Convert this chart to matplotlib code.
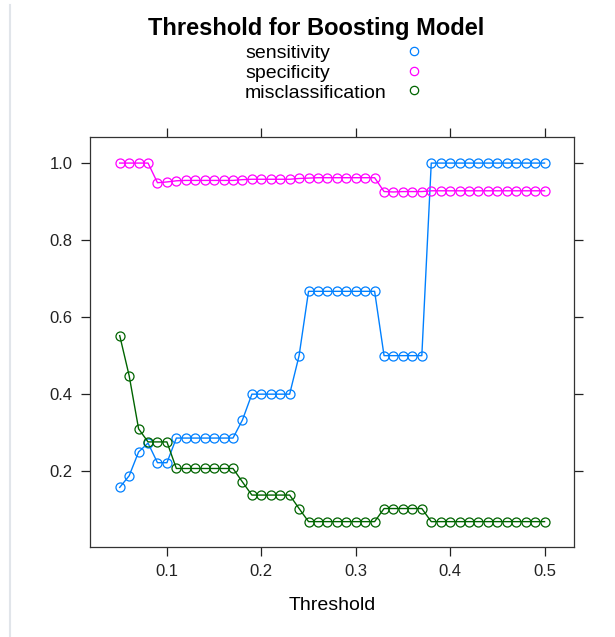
import matplotlib.pyplot as plt
from matplotlib.lines import Line2D

plt.rcParams['font.family'] = ['Liberation Sans', 'DejaVu Sans']

# thresholds 0.05 .. 0.50
threshold = [0.05, 0.06, 0.07, 0.08, 0.09, 0.10, 0.11, 0.12, 0.13, 0.14,
             0.15, 0.16, 0.17, 0.18, 0.19, 0.20, 0.21, 0.22, 0.23, 0.24,
             0.25, 0.26, 0.27, 0.28, 0.29, 0.30, 0.31, 0.32, 0.33, 0.34,
             0.35, 0.36, 0.37, 0.38, 0.39, 0.40, 0.41, 0.42, 0.43, 0.44,
             0.45, 0.46, 0.47, 0.48, 0.49, 0.50]

sensitivity = [0.158, 0.188, 0.25, 0.273, 0.222, 0.222,
               0.286, 0.286, 0.286, 0.286, 0.286, 0.286, 0.286,
               0.333,
               0.4, 0.4, 0.4, 0.4, 0.4,
               0.5,
               0.667, 0.667, 0.667, 0.667, 0.667, 0.667, 0.667, 0.667,
               0.5, 0.5, 0.5, 0.5, 0.5,
               1.0, 1.0, 1.0, 1.0, 1.0, 1.0, 1.0, 1.0, 1.0, 1.0, 1.0, 1.0, 1.0]

specificity = [1.0, 1.0, 1.0, 1.0, 0.949, 0.951,
               0.954, 0.955, 0.955, 0.955, 0.955, 0.955, 0.955,
               0.957,
               0.958, 0.958, 0.958, 0.958, 0.958,
               0.960,
               0.961, 0.962, 0.962, 0.962, 0.962, 0.962, 0.962, 0.962,
               0.926, 0.925, 0.926, 0.926, 0.926,
               0.928, 0.928, 0.928, 0.928, 0.928, 0.928, 0.928, 0.928,
               0.928, 0.928, 0.928, 0.928, 0.928]

misclassification = [0.552, 0.448, 0.310, 0.276, 0.276, 0.276,
                     0.207, 0.207, 0.207, 0.207, 0.207, 0.207, 0.207,
                     0.172,
                     0.138, 0.138, 0.138, 0.138, 0.138,
                     0.103,
                     0.069, 0.069, 0.069, 0.069, 0.069, 0.069, 0.069, 0.069,
                     0.103, 0.103, 0.103, 0.103, 0.103,
                     0.069, 0.069, 0.069, 0.069, 0.069, 0.069, 0.069, 0.069,
                     0.069, 0.069, 0.069, 0.069, 0.069]

series = [("sensitivity", sensitivity, "#0080ff"),
          ("specificity", specificity, "#ff00ff"),
          ("misclassification", misclassification, "#006400")]

fig = plt.figure(figsize=(6.15, 6.37), dpi=100)
ax = fig.add_axes([0.1463, 0.1418, 0.7875, 0.6427])

for name, vals, col in series:
    ax.plot(threshold, vals, color=col, lw=1.0, marker='o', ms=6.5,
            mfc='none', mec=col, mew=0.9, label=name)

ax.set_xlim(0.0185, 0.5315)
ax.set_ylim(0.004, 1.067)
ax.set_xticks([0.1, 0.2, 0.3, 0.4, 0.5])
ax.set_xticklabels(["0.1", "0.2", "0.3", "0.4", "0.5"])
ax.set_yticks([0.2, 0.4, 0.6, 0.8, 1.0])
ax.set_yticklabels(["0.2", "0.4", "0.6", "0.8", "1.0"])
ax.tick_params(direction='out', length=6.5, width=0.9, colors='#222222',
               labelsize=12, pad=6, top=True, right=True,
               labeltop=False, labelright=False)
for sp in ax.spines.values():
    sp.set_color('#333333')
    sp.set_linewidth(0.9)

fig.text(332 / 615, 1 - 606 / 637, "Threshold", ha='center', va='center',
         fontsize=14)
fig.text(316 / 615, 1 - 28 / 637, "Threshold for Boosting Model",
         ha='center', va='center', fontsize=17, fontweight='bold')

# legend: left-aligned labels, markers in a column on the right
key_y = [54, 74, 93]
for (name, _, col), yy in zip(series, key_y):
    fig.text(245 / 615, 1 - yy / 637, name, ha='left', va='center',
             fontsize=14)
    fig.add_artist(Line2D([414 / 615], [1 - (yy - 3) / 637], ls='none',
                          marker='o', ms=6, mfc='none', mec=col, mew=0.9,
                          transform=fig.transFigure))

# screenshot edge line on the left
fig.add_artist(Line2D([10 / 615, 10 / 615], [0, 1 - 5 / 637],
                      transform=fig.transFigure, color='#e1e5ea', lw=1.5))

fig.savefig("out.png", dpi=100)
